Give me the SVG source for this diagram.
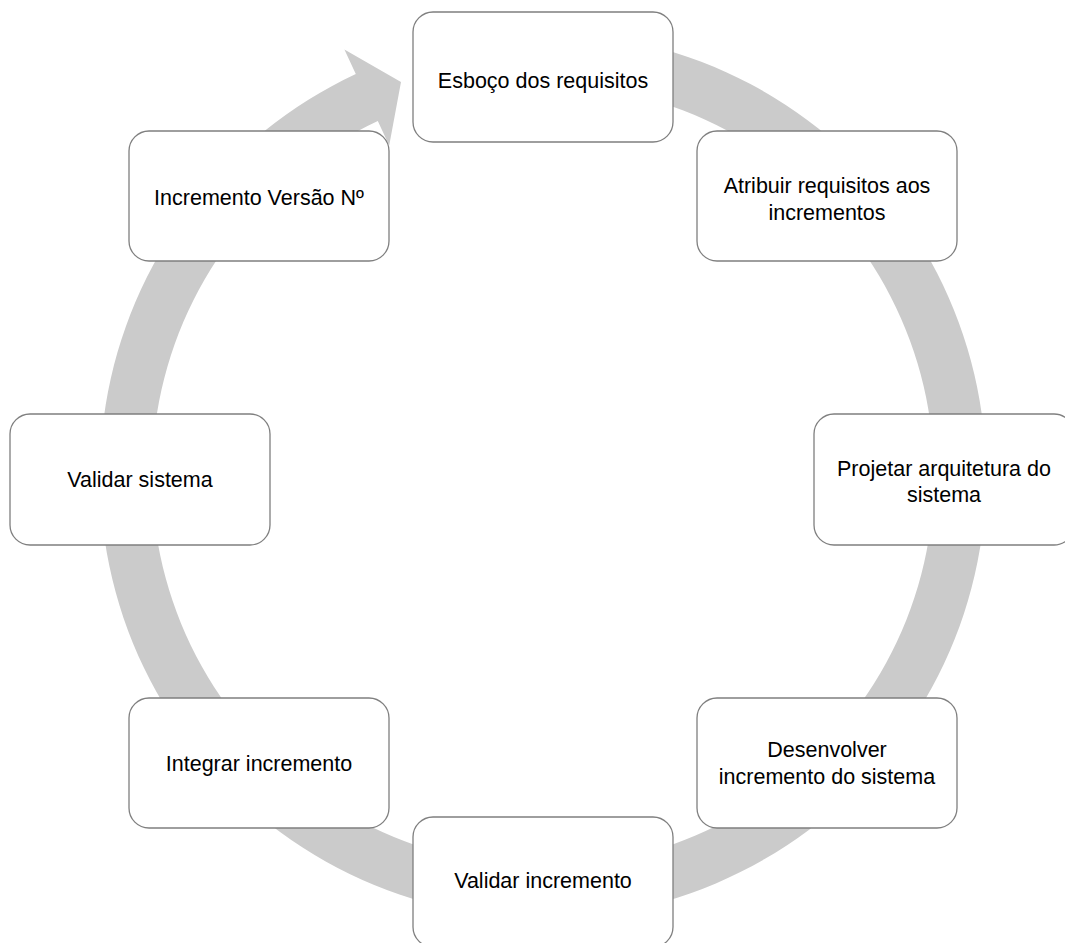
<svg xmlns="http://www.w3.org/2000/svg" width="1065" height="943" viewBox="0 0 1065 943">
<style>
.box{fill:#ffffff;stroke:#7f7f7f;stroke-width:1.3}
.t{font-family:"Liberation Sans",Arial,sans-serif;font-size:21.5px;fill:#000000;text-anchor:middle}
.ring{fill:#cbcbcb;stroke:none}
</style>
<rect width="1065" height="943" fill="#ffffff"/>
<g id="connectors">
<path class="ring" d="M 543 32.5 A 443 443 0 1 1 355.8 74.0 L 344.4 49.5 L 401 82 L 389.2 145.6 L 377.8 121.1 A 391 391 0 1 0 543 84.5 Z"/>
</g>
<g id="n1"><rect class="box" x="413" y="12" width="260" height="130" rx="20"/><text class="t" x="543" y="88">Esboço dos requisitos</text></g>
<g id="n2"><rect class="box" x="697" y="131" width="260" height="130" rx="20"/><text class="t" x="827" y="193">Atribuir requisitos aos</text><text class="t" x="827" y="220">incrementos</text></g>
<g id="n3"><rect class="box" x="814" y="414" width="260" height="131" rx="20"/><text class="t" x="944" y="476">Projetar arquitetura do</text><text class="t" x="944" y="502">sistema</text></g>
<g id="n4"><rect class="box" x="697" y="698" width="260" height="130" rx="20"/><text class="t" x="827" y="757">Desenvolver</text><text class="t" x="827" y="784">incremento do sistema</text></g>
<g id="n5"><rect class="box" x="413" y="817" width="260" height="130" rx="20"/><text class="t" x="543" y="888">Validar incremento</text></g>
<g id="n6"><rect class="box" x="129" y="698" width="260" height="130" rx="20"/><text class="t" x="259" y="771">Integrar incremento</text></g>
<g id="n7"><rect class="box" x="10" y="414" width="260" height="131" rx="20"/><text class="t" x="140" y="487">Validar sistema</text></g>
<g id="n8"><rect class="box" x="129" y="131" width="260" height="130" rx="20"/><text class="t" x="259" y="205">Incremento Versão Nº</text></g>
</svg>
